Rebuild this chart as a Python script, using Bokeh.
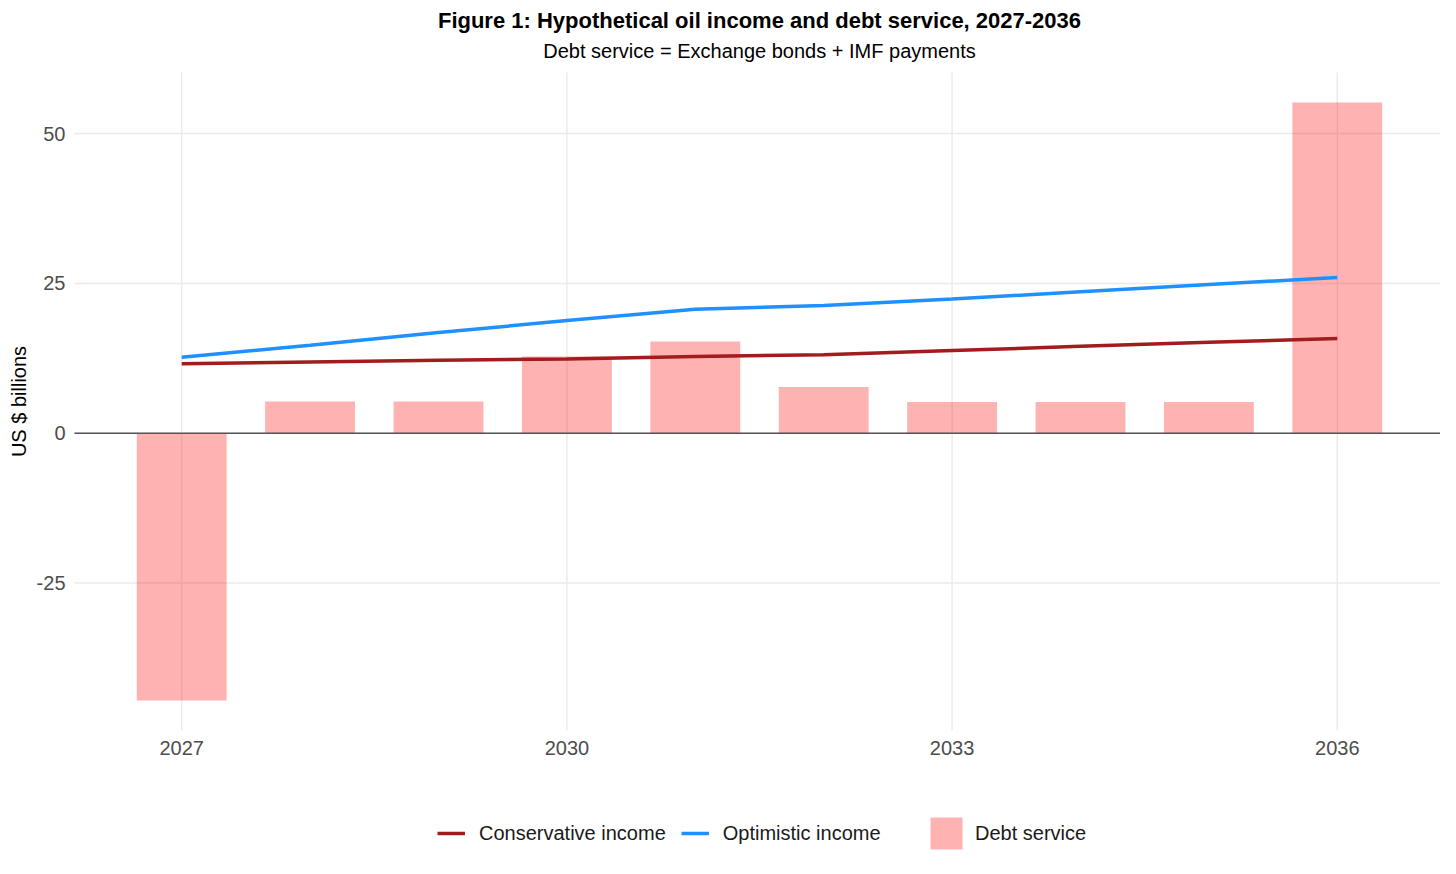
from bokeh.plotting import figure
from bokeh.models import (Range1d, FixedTicker, Legend, LegendItem, Label,
                          PrintfTickFormatter)
from bokeh.embed import file_html
from bokeh.resources import INLINE

years = [2027, 2028, 2029, 2030, 2031, 2032, 2033, 2034, 2035, 2036]
debt_service = [-44.6, 5.3, 5.3, 12.8, 15.3, 7.7, 5.2, 5.2, 5.2, 55.2]
conservative_income = [11.6, 11.9, 12.2, 12.4, 12.8, 13.1, 13.8, 14.5, 15.2, 15.8]
optimistic_income = [12.7, 14.7, 16.8, 18.8, 20.7, 21.3, 22.4, 23.6, 24.8, 26.0]
x_ticks = [2027, 2030, 2033, 2036]
y_ticks = [-25, 0, 25, 50]
zero_line = [0]

title_text = "Figure 1: Hypothetical oil income and debt service, 2027-2036"
subtitle_text = "Debt service = Exchange bonds + IMF payments"
y_label_text = "US $ billions"
FONT = "Liberation Sans"

# layout (pixels): the frame fills the canvas, the gridded panel sits inside it
W, H = 1440, 856
PANEL_LEFT, PANEL_TOP = 74, 72
PANEL_W, PANEL_H = 1370, 658

bar_w = 0.7
x_lo = min(years) - bar_w / 2
x_hi = max(years) + bar_w / 2
x_pad = (x_hi - x_lo) * 0.05
px_start, px_end = x_lo - x_pad, x_hi + x_pad
x_per_px = (px_end - px_start) / PANEL_W

all_y = debt_service + conservative_income + optimistic_income
y_lo, y_hi = min(all_y), max(all_y)
y_pad = (y_hi - y_lo) * 0.05
panel_lo, panel_hi = y_lo - y_pad, y_hi + y_pad
y_per_px = (panel_hi - panel_lo) / PANEL_H

p = figure(width=W, height=H, output_backend="svg", toolbar_location=None,
           title=None,
           x_range=Range1d(px_start - PANEL_LEFT * x_per_px,
                           px_start + (W - PANEL_LEFT) * x_per_px),
           y_range=Range1d(panel_hi - (H - PANEL_TOP) * y_per_px,
                           panel_hi + PANEL_TOP * y_per_px),
           min_border_left=0, min_border_right=0, min_border_top=0,
           min_border_bottom=0)
p.outline_line_color = None
p.background_fill_color = "white"
p.border_fill_color = "white"
p.xgrid.visible = False
p.ygrid.visible = False

# grid lines limited to the data panel
n = len(x_ticks)
p.segment(x0=x_ticks, y0=[panel_lo] * n, x1=x_ticks, y1=[panel_hi] * n,
          line_color="#EBEBEB", line_width=1.5, level="underlay")
m = len(y_ticks)
p.segment(x0=[px_start] * m, y0=y_ticks, x1=[px_end] * m, y1=y_ticks,
          line_color="#EBEBEB", line_width=1.5, level="underlay")

bars = p.vbar(x=years, top=debt_service, bottom=0, width=bar_w,
              fill_color="#FF0000", fill_alpha=0.3, line_color=None)
p.segment(x0=[px_start], y0=zero_line, x1=[px_end], y1=zero_line,
          line_color="#555555", line_width=1.5)
cons = p.line(years, conservative_income, line_color="#A11D1D", line_width=3.5)
opt = p.line(years, optimistic_income, line_color="#1E90FF", line_width=3.5)

for ax in (p.xaxis[0], p.yaxis[0]):
    ax.axis_line_color = None
    ax.major_tick_line_color = None
    ax.minor_tick_line_color = None
    ax.major_tick_out = 0
    ax.major_tick_in = 0
    ax.minor_tick_out = 0
    ax.minor_tick_in = 0
    ax.major_label_text_font = FONT
    ax.major_label_text_font_size = "20px"
    ax.major_label_text_color = "#4D4D4D"
p.xaxis.ticker = FixedTicker(ticks=x_ticks)
p.xaxis.fixed_location = panel_lo
p.xaxis.major_label_standoff = 10
p.yaxis.ticker = FixedTicker(ticks=y_ticks)
p.yaxis.fixed_location = px_start
p.yaxis.formatter = PrintfTickFormatter(format="%d")
p.yaxis.major_label_standoff = 9

# titles and y-axis title
p.add_layout(Label(x=PANEL_LEFT + PANEL_W / 2, y=H - 20, x_units="screen",
                   y_units="screen", text=title_text, text_font=FONT,
                   text_font_size="22px", text_font_style="bold",
                   text_color="black", text_align="center",
                   text_baseline="middle"))
p.add_layout(Label(x=PANEL_LEFT + PANEL_W / 2, y=H - 50, x_units="screen",
                   y_units="screen", text=subtitle_text, text_font=FONT,
                   text_font_size="20px", text_color="black",
                   text_align="center", text_baseline="middle"))
p.add_layout(Label(x=18, y=(panel_lo + panel_hi) / 2, x_units="screen",
                   y_units="data", text=y_label_text, text_font=FONT,
                   text_font_size="20px", text_color="black", angle=90,
                   angle_units="deg", text_align="center",
                   text_baseline="middle"))

common = dict(orientation="horizontal",
              label_text_font=FONT, label_text_font_size="20px",
              label_text_color="#1A1A1A", spacing=15,
              padding=0, margin=0, border_line_color=None,
              background_fill_alpha=0)
leg1 = Legend(items=[LegendItem(label="Conservative income", renderers=[cons]),
                     LegendItem(label="Optimistic income", renderers=[opt])],
              location=(437, 7), glyph_width=28, glyph_height=32,
              label_standoff=14, **common)
leg2 = Legend(items=[LegendItem(label="Debt service", renderers=[bars])],
              location=(926, 3), glyph_width=40, glyph_height=40,
              label_standoff=9, **common)
p.add_layout(leg1)
p.add_layout(leg2)

open("out.html", "w").write(file_html(p, INLINE))
